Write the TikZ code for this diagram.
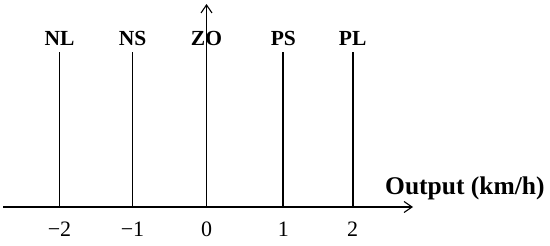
\documentclass[tikz,border=0pt]{standalone}
\usepackage{fontspec}
\setmainfont{Liberation Serif}
\usetikzlibrary{arrows.meta}
\begin{document}
\begin{tikzpicture}[
		x=1pt, y=-1pt,
		inner sep=0pt,
		axis/.style={draw, line width=1.1pt, -{Straight Barb[length=8pt,width=11pt]}},
		spike/.style={draw, line width=1.7pt},
		setname/.style={font=\fontsize{21.5}{21.5}\selectfont\bfseries, anchor=base},
		ticklabel/.style={font=\fontsize{22}{22}\selectfont, anchor=base},
		axislabel/.style={font=\fontsize{25.5}{25.5}\selectfont\bfseries, anchor=base west}
		]
		\useasboundingbox (0,0) rectangle (550,246);
		
		% axes
		\coordinate (xstart) at (3,207);
		\coordinate (xend) at (413,207);
		\coordinate (origin) at (206.5,207);
		\coordinate (yend) at (206.5,4);
		\draw[axis] (xstart) -- (xend);
		\draw[axis] (origin) -- (yend);
		\node[axislabel] (output) at (385,194) {Output (km/h)};
		
		% singletons
		\foreach \name/\xpos/\val in {NL/59.5/−2, NS/132.5/−1, ZO/206.5/0, PS/283.3/1, PL/352.7/2} {
			\coordinate (\name-bot) at (\xpos,207);
			\coordinate (\name-top) at (\xpos,51.7);
			\draw[spike] (\name-bot) -- (\name-top);
			\node[setname] (\name) at (\xpos,46) {\name};
			\node[ticklabel] (\name-val) at (\xpos,236.5) {\val};
		}
	\end{tikzpicture}
\end{document}
